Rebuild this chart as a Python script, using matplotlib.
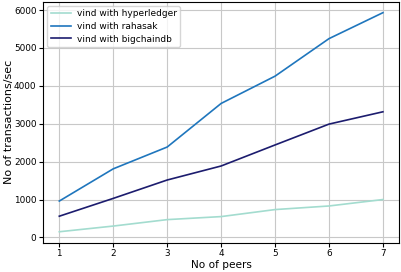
import matplotlib
matplotlib.use("Agg")
import matplotlib.pyplot as plt

peers = [1, 2, 3, 4, 5, 6, 7]
hyperledger = [150, 300, 470, 550, 735, 830, 1000]
rahasak = [960, 1810, 2385, 3535, 4255, 5245, 5930]
bigchaindb = [560, 1030, 1515, 1885, 2440, 2990, 3315]

fig = plt.figure(figsize=(4.01, 2.72), dpi=100)
ax = fig.add_axes([0.1075, 0.1077, 0.8878, 0.886])
ax.plot(peers, hyperledger, color="#a3dccf", lw=1.2, label="vind with hyperledger")
ax.plot(peers, rahasak, color="#1f76bd", lw=1.2, label="vind with rahasak")
ax.plot(peers, bigchaindb, color="#1c1c6e", lw=1.2, label="vind with bigchaindb")
ax.grid(True, color="#c8c8c8", lw=0.8)
ax.set_xlabel("No of peers", fontsize=7.6, labelpad=1.5)
ax.set_ylabel("No of transactions/sec", fontsize=8.0)
ax.yaxis.set_label_coords(-0.082, 0.5)
ax.tick_params(labelsize=6.4, length=3, pad=1.8)
ax.set_yticks([0, 1000, 2000, 3000, 4000, 5000, 6000])
ax.legend(loc="upper left", fontsize=6.5, handlelength=2.2, handletextpad=0.66,
          borderpad=0.4, labelspacing=0.4, borderaxespad=0.45)
fig.savefig("out.png", dpi=100)
